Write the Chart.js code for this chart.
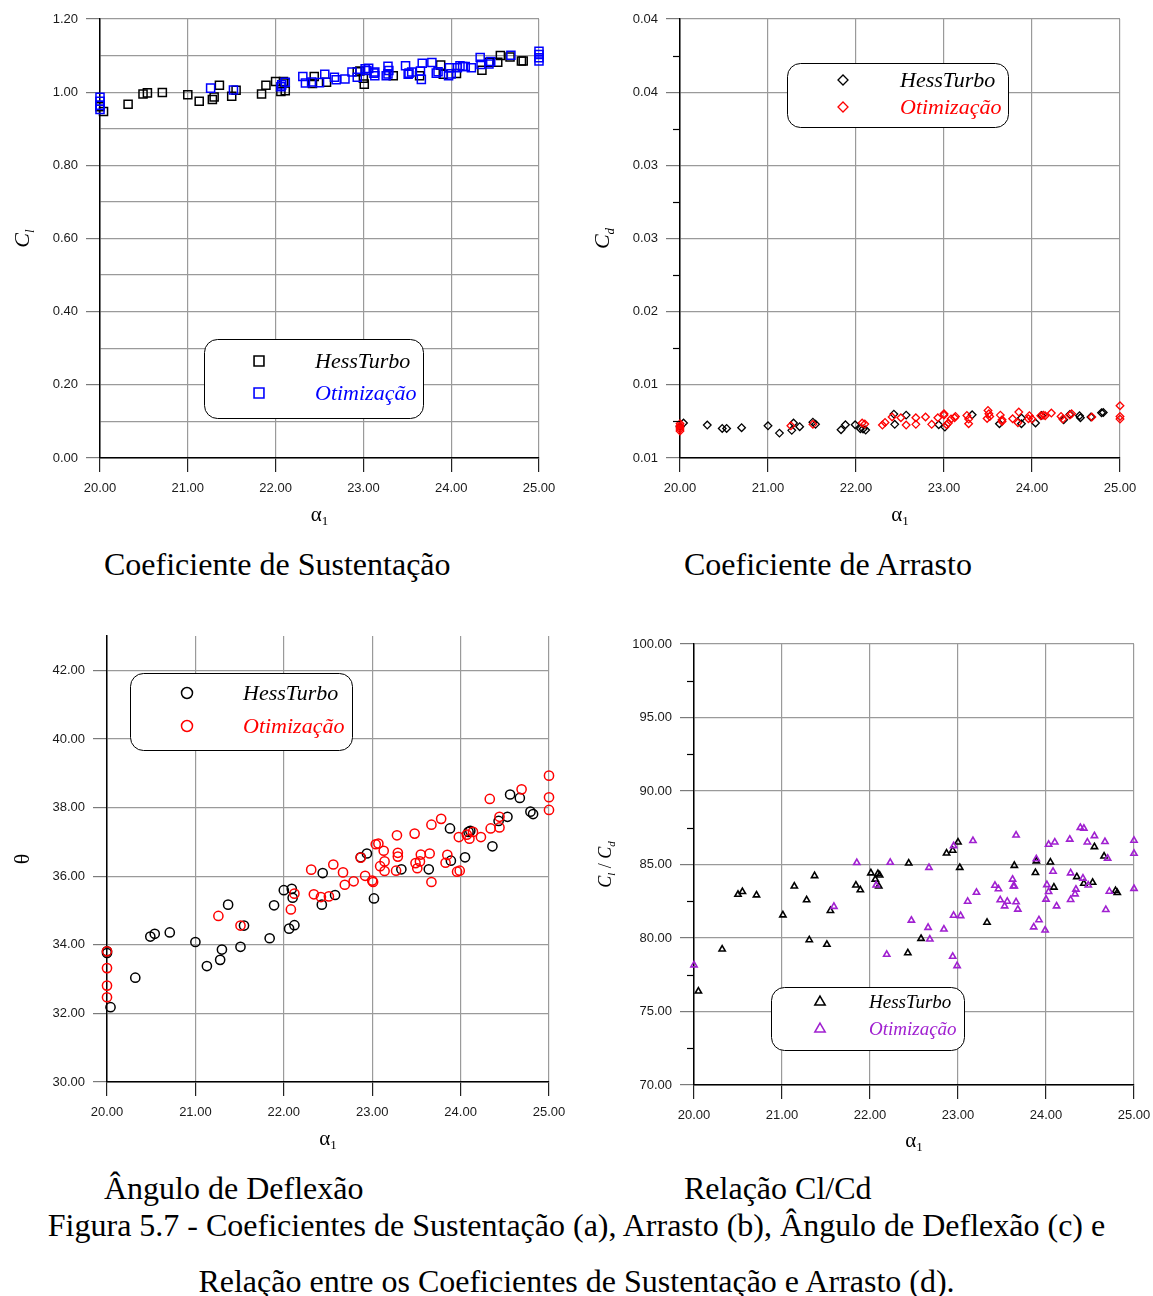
<!DOCTYPE html>
<html lang="pt-BR">
<head>
<meta charset="UTF-8">
<title>Figura 5.7</title>
<script src="https://cdn.jsdelivr.net/npm/chart.js@4.4.1/dist/chart.umd.min.js"></script>
<style>
  body { margin: 0; background: #fff; }
  #pagina { position: relative; width: 1153px; height: 1296px; overflow: hidden; font-family: 'Liberation Serif', 'Times New Roman', serif; color: #000; }
  #pagina canvas { position: absolute; }
  .subtitulo { position: absolute; font-size: 32px; line-height: 1; white-space: nowrap; }
  .legenda-figura { position: absolute; left: 0; width: 1153px; text-align: center; font-size: 32px; line-height: 1; white-space: nowrap; }
</style>
</head>
<body>
<div id="pagina">
  <canvas id="graficoCl" width="576" height="530" style="left:0;top:0"></canvas>
  <canvas id="graficoCd" width="577" height="530" style="left:576px;top:0"></canvas>
  <canvas id="graficoTheta" width="576" height="560" style="left:0;top:600px"></canvas>
  <canvas id="graficoRazao" width="577" height="560" style="left:576px;top:600px"></canvas>

  <div class="subtitulo" style="left:104px;top:548px">Coeficiente de Sustentação</div>
  <div class="subtitulo" style="left:684px;top:548px">Coeficiente de Arrasto</div>
  <div class="subtitulo" style="left:104px;top:1172px">Ângulo de Deflexão</div>
  <div class="subtitulo" style="left:684px;top:1172px">Relação Cl/Cd</div>
  <div class="legenda-figura" style="top:1209px">Figura 5.7 - Coeficientes de Sustentação (a), Arrasto (b), Ângulo de Deflexão (c) e</div>
  <div class="legenda-figura" style="top:1265px">Relação entre os Coeficientes de Sustentação e Arrasto (d).</div>
</div>

<script>
// ================== DADOS ==================
const alphaTicks = [20, 21, 22, 23, 24, 25];

// (a) Coeficiente de sustentação
const clTicks = [0, 0.1, 0.2, 0.3, 0.4, 0.5, 0.6, 0.7, 0.8, 0.9, 1.0, 1.1, 1.2];
const clTickLabels = ['0.00', '', '0.20', '', '0.40', '', '0.60', '', '0.80', '', '1.00', '', '1.20'];
const clHessAlpha = [20.00, 20.04, 20.32, 20.49, 20.54, 20.71, 21.00, 21.13, 21.28, 21.30, 21.36, 21.50, 21.55, 21.84, 21.89, 22.00, 22.06, 22.09, 22.11, 22.11,
    22.42, 22.44, 22.58, 22.93, 22.96, 23.00, 23.01, 23.34, 23.64, 23.88, 23.91, 24.06, 24.35, 24.43, 24.53, 24.56, 24.67, 24.80, 24.82];
const clHessValor = [0.960, 0.947, 0.967, 0.995, 0.998, 0.999, 0.993, 0.975, 0.980, 0.987, 1.019, 0.989, 1.005, 0.995, 1.019, 1.029, 1.002, 1.029, 1.004, 1.025,
    1.024, 1.043, 1.027, 1.056, 1.058, 1.038, 1.022, 1.045, 1.045, 1.074, 1.049, 1.051, 1.060, 1.082, 1.082, 1.100, 1.096, 1.085, 1.085];
const clOtimAlpha = [20.00, 20.00, 20.00, 20.00, 21.26, 21.52, 22.06, 22.07, 22.11, 22.31, 22.34, 22.41, 22.50, 22.56, 22.67, 22.69, 22.79, 22.87, 22.93,
    23.02, 23.04, 23.06, 23.12, 23.13, 23.13, 23.26, 23.28, 23.29, 23.28, 23.48, 23.51, 23.52, 23.55, 23.65, 23.66, 23.67, 23.78, 23.83, 23.85,
    23.97, 23.98, 24.00, 24.07, 24.10, 24.13, 24.16, 24.23, 24.33, 24.34, 24.43, 24.45, 24.68, 25.00, 25.00, 25.00, 25.00];
const clOtimValor = [0.986, 0.975, 0.964, 0.953, 1.011, 1.006, 1.015, 1.020, 1.027, 1.043, 1.025, 1.028, 1.026, 1.049, 1.041, 1.034, 1.036, 1.055, 1.041,
    1.064, 1.059, 1.065, 1.052, 1.045, 1.055, 1.045, 1.071, 1.059, 1.050, 1.072, 1.049, 1.052, 1.055, 1.058, 1.035, 1.079, 1.081, 1.052, 1.056,
    1.045, 1.067, 1.050, 1.067, 1.072, 1.070, 1.070, 1.067, 1.095, 1.076, 1.077, 1.084, 1.101, 1.112, 1.103, 1.094, 1.085];

// (b) Coeficiente de arrasto
const cdTicks = [0.01, 0.0125, 0.015, 0.0175, 0.02, 0.0225, 0.025, 0.0275, 0.03, 0.0325, 0.035, 0.0375, 0.04];
const cdTickLabels = ['0.01', '', '0.01', '', '0.02', '', '0.03', '', '0.03', '', '0.04', '', '0.04'];
const cdHessAlpha = [20.00, 20.04, 20.31, 20.48, 20.53, 20.70, 21.00, 21.13, 21.27, 21.29, 21.36, 21.51, 21.54, 21.83, 21.88, 21.99, 22.05, 22.08, 22.11,
    22.43, 22.44, 22.57, 22.94, 23.01, 23.32, 23.63, 23.88, 23.88, 24.04, 24.11, 24.36, 24.43, 24.54, 24.55, 24.67, 24.79, 24.81];
const cdHessValor = [0.01215, 0.01239, 0.01225, 0.01202, 0.01202, 0.01207, 0.01220, 0.01170, 0.01189, 0.01239, 0.01214, 0.01245, 0.01230, 0.01193,
    0.01227, 0.01227, 0.01200, 0.01198, 0.01191, 0.01300, 0.01230, 0.01293, 0.01227, 0.01211, 0.01295, 0.01234, 0.01273, 0.01234, 0.01239,
    0.01291, 0.01261, 0.01298, 0.01289, 0.01275, 0.01280, 0.01309, 0.01311];
const cdOtimAlpha = [20.00, 20.00, 20.00, 20.00, 20.00, 21.26, 21.51, 22.07, 22.10, 22.30, 22.33, 22.41, 22.51, 22.57, 22.68, 22.68, 22.79, 22.86, 22.93,
    23.00, 23.00, 23.03, 23.05, 23.08, 23.12, 23.13, 23.26, 23.28, 23.28, 23.49, 23.50, 23.51, 23.52, 23.64, 23.66, 23.66, 23.78, 23.85, 23.84,
    23.96, 23.97, 24.00, 24.10, 24.13, 24.15, 24.22, 24.33, 24.35, 24.43, 24.45, 24.68, 25.00, 25.00, 25.00];
const cdOtimValor = [0.01235, 0.01222, 0.01210, 0.01198, 0.01185, 0.01220, 0.01230, 0.01239, 0.01232, 0.01225, 0.01243, 0.01280, 0.01275, 0.01225,
    0.01275, 0.01230, 0.01280, 0.01230, 0.01275, 0.01293, 0.01302, 0.01227, 0.01239, 0.01266, 0.01275, 0.01284, 0.01291, 0.01266, 0.01234,
    0.01270, 0.01325, 0.01302, 0.01284, 0.01293, 0.01261, 0.01250, 0.01268, 0.01314, 0.01241, 0.01268, 0.01289, 0.01266, 0.01289, 0.01293,
    0.01289, 0.01307, 0.01284, 0.01266, 0.01293, 0.01302, 0.01280, 0.01357, 0.01284, 0.01266];

// (c) Ângulo de deflexão
const thetaTicks = [30, 32, 34, 36, 38, 40, 42];
const thetaTickLabels = ['30.00', '32.00', '34.00', '36.00', '38.00', '40.00', '42.00'];
const thetaHessAlpha = [20.00, 20.00, 20.04, 20.32, 20.49, 20.54, 20.71, 21.00, 21.13, 21.28, 21.30, 21.37, 21.51, 21.55, 21.84, 21.89, 22.00, 22.06,
    22.09, 22.10, 22.12, 22.43, 22.44, 22.58, 22.87, 22.94, 23.02, 23.33, 23.64, 23.88, 23.89, 24.05, 24.09, 24.11, 24.36, 24.43, 24.53, 24.56,
    24.67, 24.79, 24.82];
const thetaHessValor = [33.81, 33.76, 32.18, 33.04, 34.24, 34.32, 34.36, 34.08, 33.38, 33.56, 33.86, 35.17, 33.94, 34.56, 34.19, 35.15, 35.59, 34.47,
    35.63, 35.37, 34.57, 35.17, 36.09, 35.45, 36.55, 36.66, 35.35, 36.20, 36.20, 37.39, 36.45, 36.55, 37.29, 37.32, 36.87, 37.61, 37.73, 38.38,
    38.28, 37.88, 37.81];
const thetaOtimAlpha = [20.00, 20.00, 20.00, 20.00, 21.26, 21.51, 22.08, 22.12, 22.31, 22.34, 22.42, 22.51, 22.56, 22.67, 22.69, 22.79, 22.87, 22.92,
    23.00, 23.01, 23.04, 23.07, 23.09, 23.13, 23.14, 23.14, 23.28, 23.29, 23.29, 23.27, 23.48, 23.49, 23.51, 23.54, 23.55, 23.65, 23.67, 23.67,
    23.78, 23.83, 23.85, 23.96, 23.99, 23.98, 24.07, 24.10, 24.14, 24.23, 24.33, 24.34, 24.44, 24.44, 24.69, 25.00, 25.00, 25.00];
const thetaOtimValor = [33.81, 33.32, 32.81, 32.47, 34.84, 34.56, 35.03, 35.49, 36.19, 35.47, 35.39, 35.41, 36.34, 36.11, 35.75, 35.85, 36.54, 36.01,
    35.87, 35.83, 36.93, 36.95, 36.29, 36.74, 36.43, 36.15, 37.19, 36.68, 36.57, 36.16, 37.24, 36.38, 36.23, 36.43, 36.63, 36.66, 35.83, 37.50,
    37.67, 36.39, 36.62, 36.13, 36.16, 37.14, 37.21, 37.09, 37.29, 37.14, 38.25, 37.39, 37.42, 37.73, 38.53, 38.93, 38.30, 37.93];

// (d) Relação Cl/Cd
const razaoTicks = [70, 72.5, 75, 77.5, 80, 82.5, 85, 87.5, 90, 92.5, 95, 97.5, 100];
const razaoTickLabels = ['70.00', '', '75.00', '', '80.00', '', '85.00', '', '90.00', '', '95.00', '', '100.00'];
const razaoHessAlpha = [20.05, 20.32, 20.50, 20.55, 20.71, 21.01, 21.14, 21.28, 21.31, 21.37, 21.51, 21.55, 21.84, 21.89, 22.01, 22.06, 22.09, 22.11,
    22.10, 22.43, 22.44, 22.58, 22.87, 22.94, 23.00, 23.02, 23.33, 23.64, 23.88, 23.89, 24.05, 24.09, 24.35, 24.43, 24.53, 24.55, 24.66, 24.79, 24.81];
const razaoHessValor = [76.38, 79.24, 82.96, 83.15, 82.92, 81.56, 83.52, 82.59, 79.87, 84.23, 79.56, 81.86, 83.59, 83.27, 84.42, 83.99, 84.37, 84.27,
    83.52, 78.98, 85.09, 79.96, 85.77, 85.96, 86.52, 84.79, 81.06, 84.93, 84.44, 85.23, 85.16, 83.45, 84.16, 83.71, 83.78, 86.20, 85.56, 83.22, 83.08];
const razaoOtimAlpha = [20.00, 21.59, 21.85, 22.07, 22.19, 22.23, 22.47, 22.66, 22.67, 22.68, 22.84, 22.94, 22.95, 22.95, 22.99, 23.03, 23.11, 23.17,
    23.21, 23.42, 23.46, 23.48, 23.53, 23.56, 23.62, 23.63, 23.64, 23.66, 23.66, 23.68, 23.86, 23.89, 23.92, 23.99, 24.00, 24.01, 24.03, 24.03,
    24.08, 24.10, 24.12, 24.27, 24.28, 24.28, 24.33, 24.34, 24.39, 24.43, 24.42, 24.47, 24.48, 24.55, 24.67, 24.68, 24.70, 24.72, 25.00, 25.00, 25.00];
const razaoOtimValor = [78.16, 82.14, 85.12, 83.59, 78.88, 85.14, 81.20, 80.71, 84.79, 79.92, 80.60, 78.74, 86.27, 81.53, 78.11, 81.51, 82.49, 86.62,
    83.10, 83.57, 83.34, 82.59, 82.17, 82.49, 83.99, 83.52, 83.52, 86.99, 82.45, 81.95, 80.74, 85.38, 81.23, 80.53, 82.63, 83.62, 83.15, 86.36,
    84.53, 86.52, 82.17, 86.71, 84.42, 82.61, 82.99, 83.31, 87.51, 87.46, 84.06, 86.52, 83.59, 86.95, 86.55, 81.93, 85.42, 83.17, 86.64, 85.75, 83.36];

// ================== ESTILO ==================
const PRETO = '#000000';
const AZUL = '#0000ff';
const VERMELHO = '#ff0000';
const ROXO = '#a020d0';
const GRADE = '#9a9a9a';
const TRANSPARENTE = 'rgba(0,0,0,0)';
const FONTE_SERIF = '"Liberation Serif", "Times New Roman", serif';

// ================== PLUGINS ==================
function caminhoArredondado(ctx, x, y, w, h, r) {
    ctx.beginPath();
    ctx.moveTo(x + r, y);
    ctx.arcTo(x + w, y, x + w, y + h, r);
    ctx.arcTo(x + w, y + h, x, y + h, r);
    ctx.arcTo(x, y + h, x, y, r);
    ctx.arcTo(x, y, x + w, y, r);
    ctx.closePath();
}

// texto com subscritos: partes = [[texto, 'i' itálico / 's' subscrito]]
function desenharRotulo(ctx, partes, x, y, tamanho, vertical) {
    ctx.save();
    ctx.translate(x, y);
    if (vertical) ctx.rotate(-Math.PI / 2);
    ctx.fillStyle = PRETO;
    ctx.textBaseline = 'alphabetic';
    const fonte = p => `${p[1].includes('i') ? 'italic ' : ''}${p[1].includes('s') ? Math.round(tamanho * 0.6) : tamanho}px ${FONTE_SERIF}`;
    let largura = 0;
    partes.forEach(p => { ctx.font = fonte(p); largura += ctx.measureText(p[0]).width; });
    let cx = -largura / 2;
    const base = tamanho * 0.33;
    partes.forEach(p => {
        ctx.font = fonte(p);
        ctx.fillText(p[0], cx, p[1].includes('s') ? base + tamanho * 0.2 : base);
        cx += ctx.measureText(p[0]).width;
    });
    ctx.restore();
}

const titulosEixos = {
    id: 'titulosEixos',
    afterDraw(chart, args, opts) {
        const a = chart.chartArea;
        desenharRotulo(chart.ctx, opts.x, (a.left + a.right) / 2, a.bottom + opts.distX, 21, false);
        desenharRotulo(chart.ctx, opts.y, a.left - opts.distY, (a.top + a.bottom) / 2, opts.tamanhoY || 22, true);
    }
};

// marcas curtas nos ticks sem rótulo do eixo y
const marcasMenores = {
    id: 'marcasMenores',
    afterDraw(chart, args, opts) {
        if (!opts.comprimento) return;
        const ctx = chart.ctx;
        const y = chart.scales.y;
        const left = chart.chartArea.left;
        ctx.save();
        ctx.strokeStyle = PRETO;
        ctx.lineWidth = 1.2;
        y.ticks.forEach((t, i) => {
            if (opts.rotulos[i] !== '') return;
            const py = Math.round(y.getPixelForValue(t.value)) + 0.5;
            ctx.beginPath();
            ctx.moveTo(left - opts.comprimento, py);
            ctx.lineTo(left, py);
            ctx.stroke();
        });
        ctx.restore();
    }
};

const legendaCaixa = {
    id: 'legendaCaixa',
    afterDraw(chart, args, opts) {
        const ctx = chart.ctx;
        const c = opts.caixa;
        ctx.save();
        caminhoArredondado(ctx, c.x + 0.5, c.y + 0.5, c.w, c.h, 13);
        ctx.fillStyle = '#ffffff';
        ctx.fill();
        ctx.strokeStyle = PRETO;
        ctx.lineWidth = 1;
        ctx.stroke();
        chart.data.datasets.forEach((ds, i) => {
            const ly = c.y + opts.linhas[i];
            ctx.fillStyle = TRANSPARENTE;
            ctx.strokeStyle = ds.pointBorderColor;
            ctx.lineWidth = opts.espessura;
            Chart.helpers.drawPoint(ctx, {
                pointStyle: ds.pointStyle, radius: opts.raio, rotation: 0, borderWidth: opts.espessura
            }, c.x + opts.marcaX, ly);
            ctx.fillStyle = ds.pointBorderColor;
            ctx.font = `italic ${opts.fonte}px ${FONTE_SERIF}`;
            ctx.textBaseline = 'alphabetic';
            ctx.textAlign = 'left';
            ctx.fillText(ds.label, c.x + opts.textoX, ly + opts.fonte * 0.33);
        });
        ctx.restore();
    }
};

// ================== GRÁFICOS ==================
function criarGrafico(cfg) {
    const canvas = document.getElementById(cfg.id);
    const W = canvas.width, H = canvas.height;
    const area = cfg.area;
    const rotulos = cfg.y.rotulos;

    const datasets = cfg.series.map(s => ({
        label: s.nome,
        data: s.alpha.map((a, i) => ({ x: a, y: s.valor[i] })),
        pointStyle: cfg.marcador,
        pointRadius: cfg.raio,
        pointBorderWidth: cfg.espessura,
        pointBorderColor: s.cor,
        pointBackgroundColor: TRANSPARENTE,
        order: s.ordem,
        clip: false
    }));

    return new Chart(canvas, {
        type: 'scatter',
        data: { datasets },
        options: {
            responsive: false,
            animation: false,
            events: [],
            layout: { autoPadding: false, padding: { left: 0, top: area.top, right: W - area.right, bottom: 0 } },
            plugins: {
                legend: { display: false },
                tooltip: { enabled: false },
                legendaCaixa: cfg.legenda,
                titulosEixos: cfg.titulos,
                marcasMenores: { comprimento: cfg.y.menor, rotulos }
            },
            scales: {
                x: {
                    type: 'linear',
                    min: 20,
                    max: 25,
                    afterBuildTicks: s => { s.ticks = alphaTicks.map(v => ({ value: v })); },
                    afterFit: s => {
                        s.height = H - area.bottom;
                        s.paddingLeft = 0;
                        s.paddingRight = 0;
                    },
                    ticks: {
                        callback: v => v.toFixed(2),
                        font: { family: '"Liberation Sans", Arial, sans-serif', size: 13 },
                        color: '#1a1a1a',
                        padding: 9,
                        maxRotation: 0,
                        autoSkip: false
                    },
                    grid: { color: GRADE, lineWidth: 1.2, tickLength: 14, tickColor: '#222' },
                    border: { color: PRETO, width: 1.5 }
                },
                y: {
                    type: 'linear',
                    min: cfg.y.min,
                    max: cfg.y.max,
                    afterBuildTicks: s => { s.ticks = cfg.y.ticks.map(v => ({ value: v })); },
                    afterFit: s => {
                        s.width = area.left;
                        s.paddingTop = 0;
                        s.paddingBottom = 0;
                    },
                    ticks: {
                        callback: (v, i) => rotulos[i],
                        font: { family: '"Liberation Sans", Arial, sans-serif', size: 13 },
                        color: '#1a1a1a',
                        padding: 8,
                        autoSkip: false
                    },
                    grid: {
                        color: ctx => (cfg.y.gradeTodas || rotulos[ctx.index] !== '') ? GRADE : TRANSPARENTE,
                        tickColor: ctx => rotulos[ctx.index] !== '' ? '#7a7a7a' : TRANSPARENTE,
                        lineWidth: 1.2,
                        tickLength: 14
                    },
                    border: { color: PRETO, width: 1.5 }
                }
            }
        },
        plugins: [titulosEixos, marcasMenores, legendaCaixa]
    });
}

document.addEventListener('DOMContentLoaded', () => {
    const alpha1 = [['α', ''], ['1', 's']];

    criarGrafico({
        id: 'graficoCl',
        area: { left: 100, top: 19, right: 539, bottom: 458 },
        marcador: 'rect', raio: 5.7, espessura: 1.5,
        series: [
            { nome: 'HessTurbo', alpha: clHessAlpha, valor: clHessValor, cor: PRETO, ordem: 1 },
            { nome: 'Otimização', alpha: clOtimAlpha, valor: clOtimValor, cor: AZUL, ordem: 0 }
        ],
        y: { min: 0, max: 1.2, ticks: clTicks, rotulos: clTickLabels, gradeTodas: true, menor: 0 },
        legenda: { caixa: { x: 204, y: 339, w: 219, h: 79 }, marcaX: 55, textoX: 111, linhas: [22, 54], raio: 7, espessura: 1.6, fonte: 22 },
        titulos: { x: alpha1, y: [['C', 'i'], ['l', 'is']], distX: 56, distY: 78 }
    });

    criarGrafico({
        id: 'graficoCd',
        area: { left: 104, top: 19, right: 544, bottom: 458 },
        marcador: 'rectRot', raio: 3.8, espessura: 1.3,
        series: [
            { nome: 'HessTurbo', alpha: cdHessAlpha, valor: cdHessValor, cor: PRETO, ordem: 1 },
            { nome: 'Otimização', alpha: cdOtimAlpha, valor: cdOtimValor, cor: VERMELHO, ordem: 0 }
        ],
        y: { min: 0.01, max: 0.04, ticks: cdTicks, rotulos: cdTickLabels, gradeTodas: false, menor: 7 },
        legenda: { caixa: { x: 211, y: 63, w: 221, h: 64 }, marcaX: 56, textoX: 113, linhas: [17, 44], raio: 5, espessura: 1.3, fonte: 22 },
        titulos: { x: alpha1, y: [['C', 'i'], ['d', 'is']], distX: 56, distY: 78 }
    });

    criarGrafico({
        id: 'graficoTheta',
        area: { left: 107, top: 36, right: 549, bottom: 482 },
        marcador: 'circle', raio: 4.6, espessura: 1.5,
        series: [
            { nome: 'HessTurbo', alpha: thetaHessAlpha, valor: thetaHessValor, cor: PRETO, ordem: 1 },
            { nome: 'Otimização', alpha: thetaOtimAlpha, valor: thetaOtimValor, cor: VERMELHO, ordem: 0 }
        ],
        y: { min: 30, max: 43, ticks: thetaTicks, rotulos: thetaTickLabels, gradeTodas: true, menor: 0 },
        legenda: { caixa: { x: 130, y: 73, w: 222, h: 77 }, marcaX: 57, textoX: 113, linhas: [20, 53], raio: 5.5, espessura: 1.5, fonte: 22 },
        titulos: { x: alpha1, y: [['θ', '']], distX: 56, distY: 85 }
    });

    criarGrafico({
        id: 'graficoRazao',
        area: { left: 118, top: 44, right: 558, bottom: 485 },
        marcador: 'triangle', raio: 3.6, espessura: 1.6,
        series: [
            { nome: 'HessTurbo', alpha: razaoHessAlpha, valor: razaoHessValor, cor: PRETO, ordem: 1 },
            { nome: 'Otimização', alpha: razaoOtimAlpha, valor: razaoOtimValor, cor: ROXO, ordem: 0 }
        ],
        y: { min: 70, max: 100, ticks: razaoTicks, rotulos: razaoTickLabels, gradeTodas: false, menor: 7 },
        legenda: { caixa: { x: 195, y: 387, w: 193, h: 63 }, marcaX: 49, textoX: 98, linhas: [15, 42], raio: 6, espessura: 1.5, fonte: 19 },
        titulos: { x: alpha1, y: [['C', 'i'], ['l', 'is'], [' / ', ''], ['C', 'i'], ['d', 'is']], distX: 55, distY: 89, tamanhoY: 18 }
    });
});
</script>
</body>
</html>
